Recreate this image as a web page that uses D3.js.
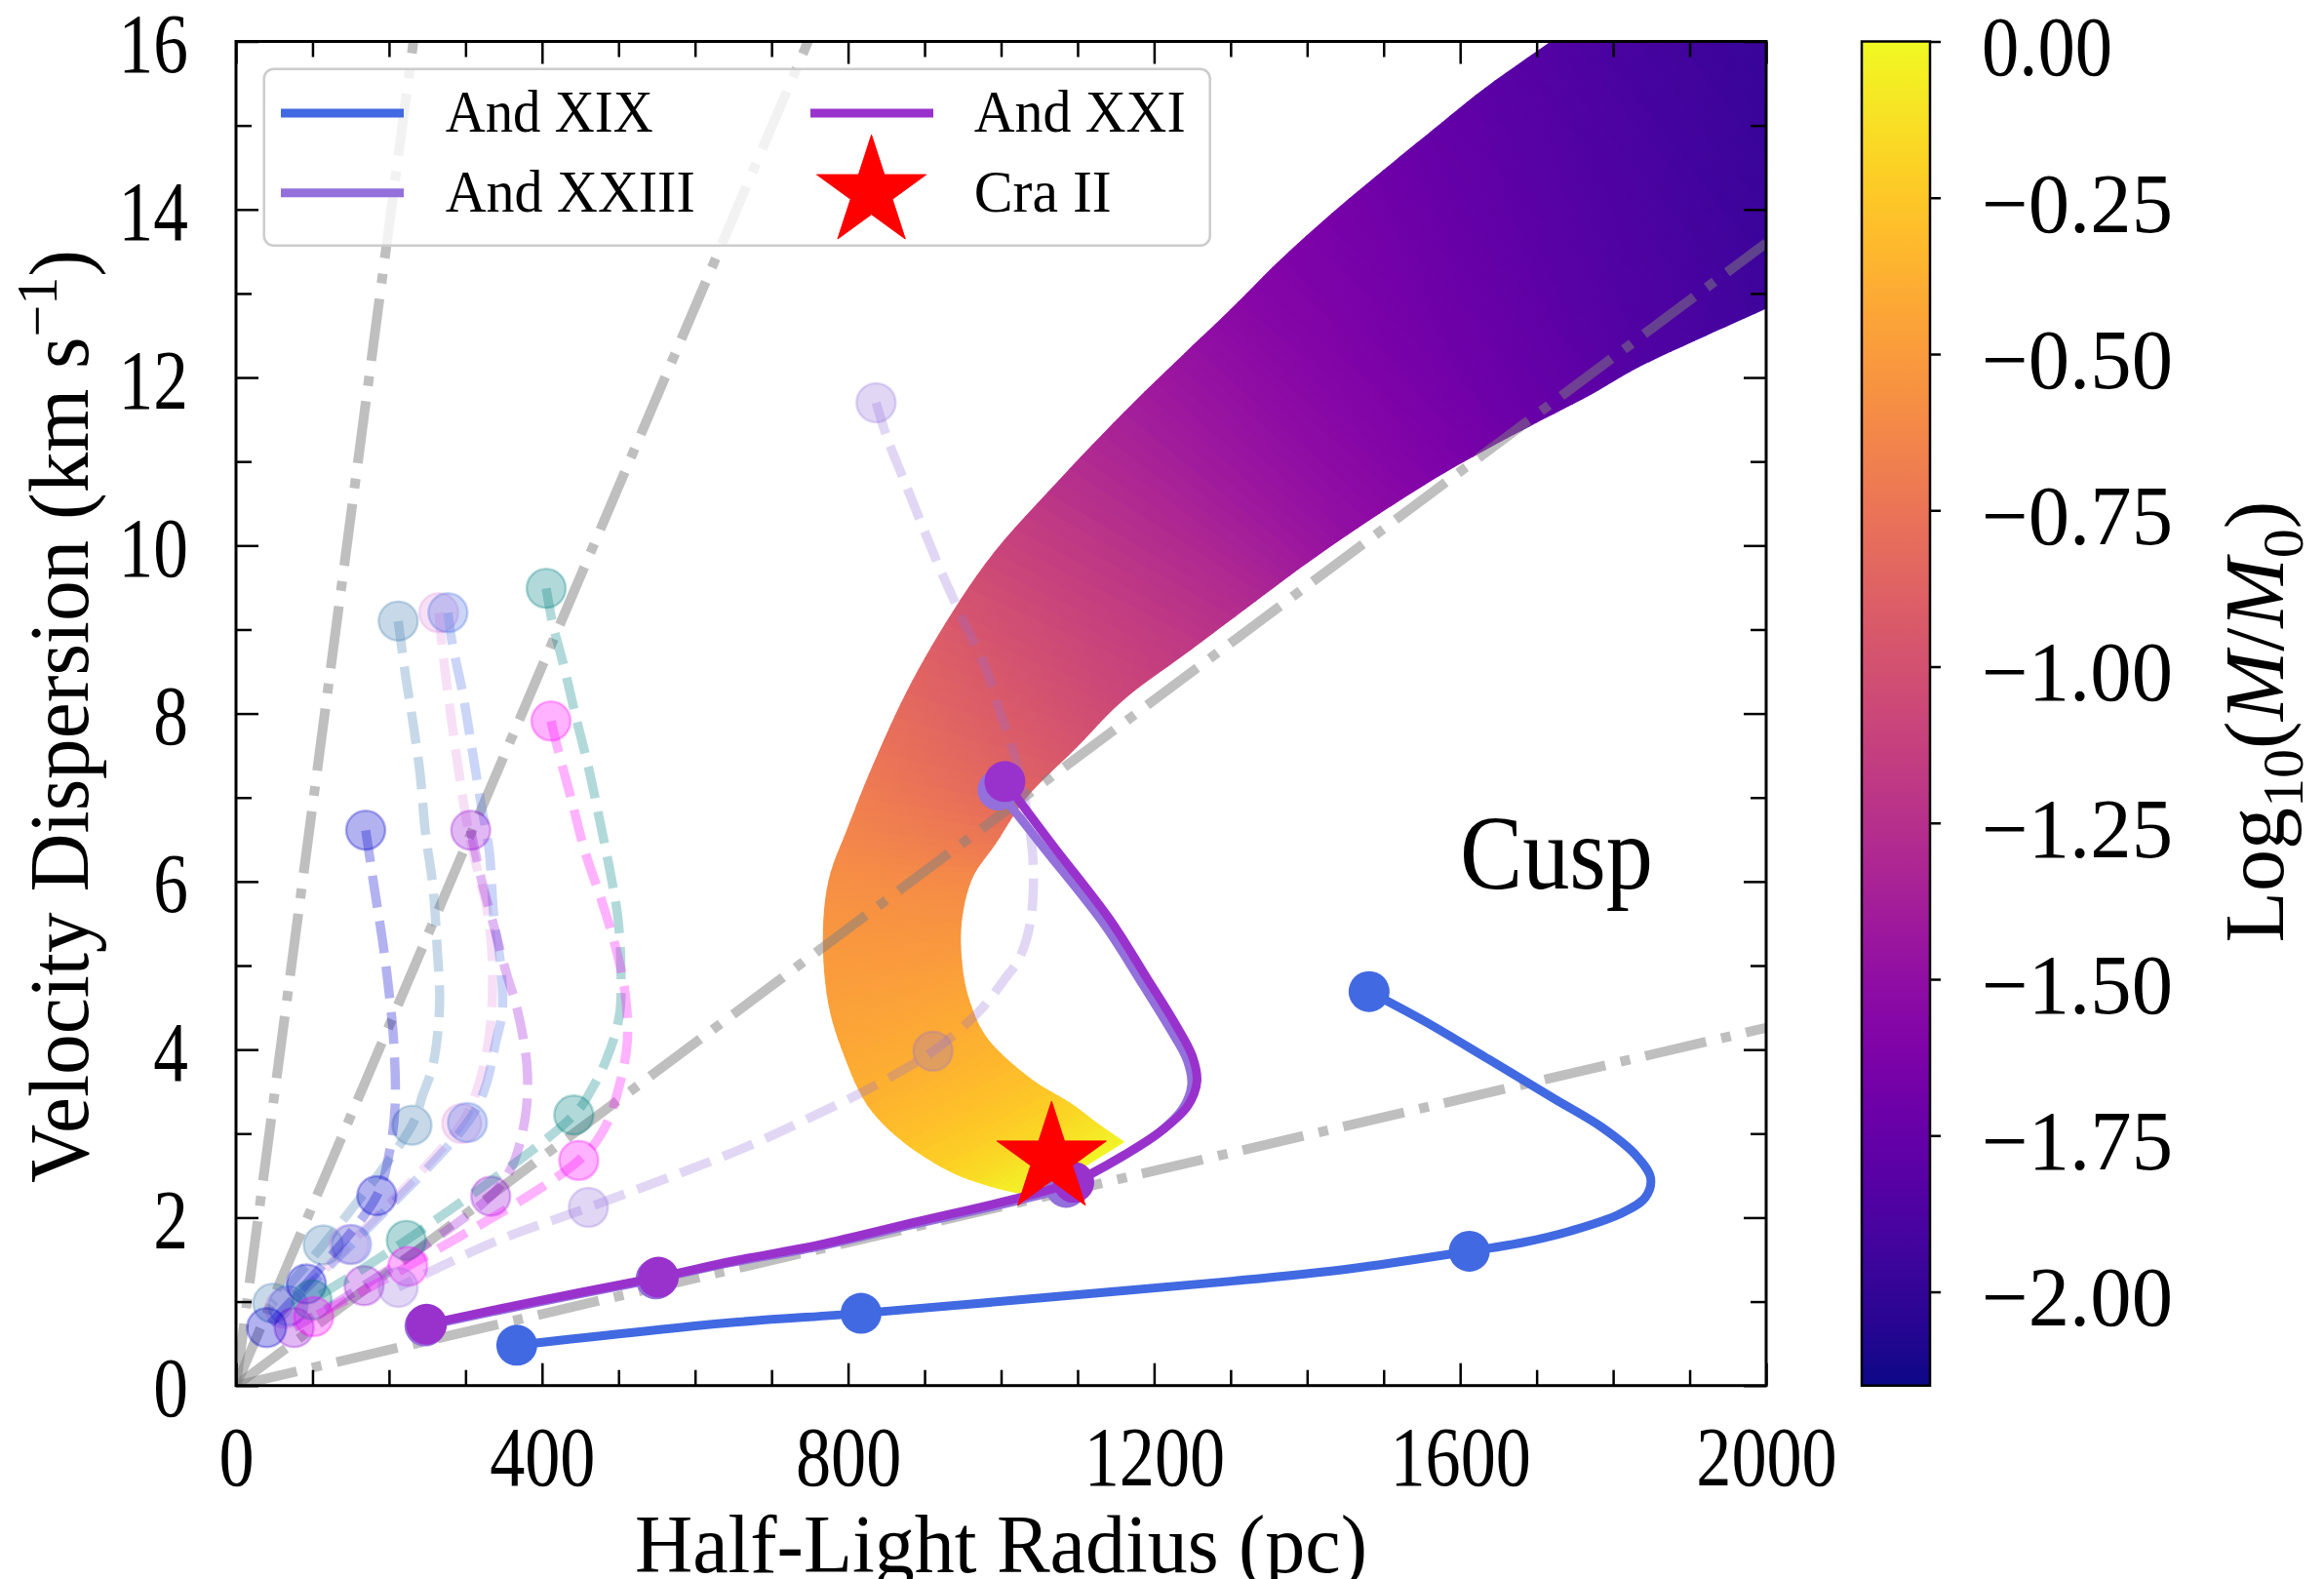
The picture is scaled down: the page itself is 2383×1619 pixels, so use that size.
<!DOCTYPE html>
<html>
<head>
<meta charset="utf-8">
<script src="https://cdn.jsdelivr.net/npm/d3@7"></script>
<style>
  html, body { margin: 0; padding: 0; background: #ffffff; }
  svg { display: block; }
  text { font-family: "Liberation Serif", "DejaVu Serif", serif; fill: #000; }
</style>
</head>
<body>
<svg id="chart" width="2383" height="1619"></svg>
<script>
// ---------------- data ----------------
const xTicksMajor = [0, 400, 800, 1200, 1600, 2000];
const xTicksMinor = d3.range(0, 2001, 100);
const yTicksMajor = [0, 2, 4, 6, 8, 10, 12, 14, 16];
const yTicksMinor = d3.range(0, 17, 1);
const cbTicks = [0, -0.25, -0.5, -0.75, -1.0, -1.25, -1.5, -1.75, -2.0];
const cbDomain = [-2.15, 0];

// slopes (km/s per pc) of the constant-density guide lines through the origin
const densitySlopes = [0.069, 0.0214, 0.0068, 0.00213];

// Cra II model band: outer and inner edges, with log10(M/M0) along each edge
const bandOuter = [[1045,2.25],[985,2.38],[932,2.56],[872,2.91],[826,3.34],[796,3.92],[775,4.55],[768,5.30],[775,6.00],[800,6.63],[834,7.40],[877,8.25],[928,9.07],[992,9.92],[1076,10.77],[1161,11.58],[1240,12.28],[1300,12.80],[1366,13.40],[1433,13.95],[1500,14.46],[1566,14.95],[1633,15.44],[1720,16.00],[1830,16.70],[1960,17.50],[2100,18.40]];
const bandInner = [[1160,2.90],[1125,3.12],[1090,3.36],[1038,3.65],[983,4.11],[958,4.58],[948,5.05],[948,5.55],[962,6.05],[992,6.45],[1034,7.02],[1098,7.60],[1161,8.18],[1247,8.76],[1332,9.34],[1400,9.80],[1480,10.30],[1566,10.80],[1640,11.18],[1700,11.47],[1770,11.80],[1833,12.13],[1920,12.50],[2000,12.83],[2110,13.30],[2250,13.90],[2400,14.50]];
const bandLogOuter = [0.00,-0.10,-0.19,-0.28,-0.36,-0.42,-0.47,-0.52,-0.57,-0.64,-0.73,-0.84,-0.94,-1.08,-1.24,-1.37,-1.47,-1.54,-1.60,-1.65,-1.70,-1.75,-1.80,-1.85,-1.91,-1.97,-2.03];
const bandLogInner = [-0.02,-0.11,-0.20,-0.29,-0.37,-0.43,-0.49,-0.55,-0.61,-0.72,-0.86,-0.98,-1.08,-1.18,-1.30,-1.42,-1.52,-1.60,-1.67,-1.73,-1.79,-1.85,-1.90,-1.95,-2.01,-2.06,-2.10];

// background dwarf tracks (half-light radius pc, dispersion km/s)
const trackBlue = [[169.5,6.61],[180,5.97],[193,5.20],[201,4.60],[206,4.11],[208,3.34],[201,2.80],[184,2.26],[92,1.21],[40,0.69]];
const trackBlueMarks = [[169.5,6.61],[184,2.26],[92,1.21],[40,0.69]];
const trackSteel = [[212,9.10],[221,8.49],[231,7.91],[240,7.33],[248,6.55],[257,5.97],[263,5.20],[266,4.50],[257,3.80],[244,3.46],[230,3.10],[114,1.675],[48,0.98]];
const trackSteelMarks = [[212,9.10],[230,3.10],[114,1.675],[48,0.98]];
const trackOrchid = [[265,9.20],[272,8.60],[282,7.90],[293,7.20],[305,6.55],[318,6.05],[327,5.72],[334,5.22],[335,4.62],[330,4.10],[316,3.55],[295,3.12],[148,1.68],[64,0.92]];
const trackOrchidMarks = [[265,9.20],[295,3.12],[148,1.68],[64,0.92]];
const trackRoyal = [[277,9.20],[282,8.87],[297,8.21],[308,7.60],[320,6.94],[331,6.36],[337,5.58],[346,5.00],[348,4.45],[340,4.11],[325,3.53],[302.5,3.13],[151,1.68],[68,0.95]];
const trackRoyalMarks = [[277,9.20],[302.5,3.13],[151,1.68],[68,0.95]];
const trackViolet = [[306.8,6.61],[320,6.05],[337,5.47],[354,4.89],[367,4.50],[380,3.84],[380,3.34],[371,2.88],[358.6,2.57],[333,2.255],[167.4,1.19],[76,0.69]];
const trackVioletMarks = [[306.8,6.61],[333,2.255],[167.4,1.19],[76,0.69]];
const trackTeal = [[405.4,9.49],[413.9,9.07],[428.7,8.56],[443.6,7.98],[460.6,7.36],[477.6,6.63],[490.4,6.05],[499,5.58],[503,5.00],[501,4.40],[484,3.88],[465,3.53],[441.5,3.22],[222.6,1.73],[99.4,1.02]];
const trackTealMarks = [[405.4,9.49],[441.5,3.22],[222.6,1.73],[99.4,1.02]];
const trackMagenta = [[411.7,7.91],[422.3,7.52],[439.4,6.94],[456,6.36],[477.6,5.78],[495.5,5.24],[508.3,4.69],[511.6,4.11],[501,3.57],[482,3.07],[448,2.68],[224.6,1.42],[101.6,0.82]];
const trackMagentaMarks = [[411.7,7.91],[448,2.68],[224.6,1.42],[101.6,0.82]];
const trackLavender = [[836.6,11.70],[851.5,11.27],[877,10.69],[902.5,10.11],[923.6,9.65],[949,9.14],[979,8.56],[1000,7.98],[1021,7.40],[1034,6.82],[1042,6.20],[1038,5.50],[1022,5.05],[1008,4.88],[976,4.50],[945,4.23],[911,3.98],[839,3.59],[741,3.15],[656,2.80],[460.6,2.12],[337.4,1.71],[212,1.17]];
const trackLavenderMarks = [[836.6,11.70],[911,3.98],[460.6,2.12],[212,1.17]];

// highlighted tracks
const andXIX = [[1481,4.69],[1553,4.34],[1638,3.88],[1722,3.42],[1786,3.07],[1830,2.74],[1849,2.47],[1842,2.24],[1808,2.04],[1744,1.84],[1680,1.70],[1612,1.60],[1455,1.39],[1298,1.24],[1060,1.05],[817,0.86],[648,0.75],[367,0.48]];
const andXIXMarks = [[1481,4.69],[1612,1.60],[817,0.86],[367,0.48]];
const andXXI = [[1005,7.19],[1066,6.45],[1142,5.55],[1190,4.86],[1228,4.30],[1250,3.92],[1256,3.62],[1244,3.33],[1212,3.05],[1160,2.74],[1111,2.49],[1095,2.42],[1017,2.22],[890,1.95],[762,1.675],[648,1.48],[552,1.29],[401,1.02],[249,0.73]];
const andXXIMarks = [[1005,7.19],[1095,2.42],[552,1.29],[249,0.73]];
const andXXIII = [[996,7.09],[1056,6.40],[1134,5.50],[1182,4.82],[1220,4.26],[1243,3.88],[1249,3.58],[1237,3.29],[1205,3.00],[1152,2.69],[1104,2.45],[1085,2.36],[1012,2.18],[886,1.92],[758,1.65],[645,1.46],[549,1.27],[399,1.00],[247,0.71]];
const andXXIIIMarks = [[996,7.09],[1085,2.36],[549,1.27],[247,0.71]];
const craII = [1066, 2.7];

// ---------------- layout ----------------
const svg = d3.select("#chart");
const P = { left: 242, right: 1811, top: 42.5, bottom: 1420.7 };
const CB = { left: 1909, right: 1979 };
const x = d3.scaleLinear().domain([0, 2000]).range([P.left, P.right]);
const y = d3.scaleLinear().domain([0, 16]).range([P.bottom, P.top]);
const cbScale = d3.scaleLinear().domain(cbDomain).range([P.bottom, P.top]);
const cmap = d3.scaleSequential(d3.interpolatePlasma).domain(cbDomain);

const defs = svg.append("defs");
defs.append("clipPath").attr("id", "plotClip")
  .append("rect").attr("x", P.left).attr("y", P.top)
  .attr("width", P.right - P.left).attr("height", P.bottom - P.top);

const plot = svg.append("g").attr("clip-path", "url(#plotClip)");

function squeeze(sel, f) {
  sel.each(function () {
    const w = this.getComputedTextLength();
    d3.select(this).attr("textLength", w * f).attr("lengthAdjust", "spacingAndGlyphs");
  });
}

// ---------------- model band ----------------
// smooth edge position between stations i and i+1 (Catmull-Rom in screen space)
function edgeAt(pts, i, t) {
  const n = pts.length;
  const p = k => pts[Math.max(0, Math.min(n - 1, k))];
  const P0 = p(i - 1), P1 = p(i), P2 = p(i + 1), P3 = p(i + 2);
  const t2 = t * t, t3 = t2 * t;
  const f = (a, b, c, d) => 0.5 * ((2 * b) + (-a + c) * t + (2 * a - 5 * b + 4 * c - d) * t2 + (-a + 3 * b - 3 * c + d) * t3);
  return [f(P0[0], P1[0], P2[0], P3[0]), f(P0[1], P1[1], P2[1], P3[1])];
}
const outerPx = bandOuter.map(d => [x(d[0]), y(d[1])]);
const innerPx = bandInner.map(d => [x(d[0]), y(d[1])]);
const bandG = plot.append("g");
const SUB = 6;
let gid = 0;
for (let i = 0; i < bandOuter.length - 1; i++) {
  for (let k = 0; k < SUB; k++) {
    const t0 = k / SUB, t1 = (k + 1) / SUB, tm = (t0 + t1) / 2;
    const A = edgeAt(outerPx, i, t0), B = edgeAt(outerPx, i, t1);
    const C = edgeAt(innerPx, i, t1), D = edgeAt(innerPx, i, t0);
    const lo = bandLogOuter[i] + (bandLogOuter[i + 1] - bandLogOuter[i]) * tm;
    const li = bandLogInner[i] + (bandLogInner[i + 1] - bandLogInner[i]) * tm;
    const id = "bg" + (gid++);
    const g = defs.append("linearGradient").attr("id", id)
      .attr("gradientUnits", "userSpaceOnUse")
      .attr("x1", (A[0] + B[0]) / 2).attr("y1", (A[1] + B[1]) / 2)
      .attr("x2", (C[0] + D[0]) / 2).attr("y2", (C[1] + D[1]) / 2);
    g.append("stop").attr("offset", 0).attr("stop-color", cmap(lo));
    g.append("stop").attr("offset", 1).attr("stop-color", cmap(li));
    bandG.append("polygon")
      .attr("points", [A, B, C, D].map(p => p.join(",")).join(" "))
      .attr("fill", `url(#${id})`)
      .attr("stroke", `url(#${id})`)
      .attr("stroke-width", 1.5)
      .attr("stroke-linejoin", "round");
  }
}

// ---------------- constant-density guide lines ----------------
plot.append("g").selectAll("line").data(densitySlopes).join("line")
  .attr("x1", x(0)).attr("y1", y(0))
  .attr("x2", x(2000)).attr("y2", d => y(2000 * d))
  .attr("stroke", "#808080").attr("stroke-opacity", 0.5)
  .attr("stroke-width", 10)
  .attr("stroke-dasharray", "64,16,10,16");

// ---------------- background tracks ----------------
const lineGen = d3.line().x(d => x(d[0])).y(d => y(d[1])).curve(d3.curveCatmullRom.alpha(0.5));
const faint = [
  { pts: trackSteel, marks: trackSteelMarks, color: "steelblue", a: 0.3 },
  { pts: trackOrchid, marks: trackOrchidMarks, color: "orchid", a: 0.22 },
  { pts: trackRoyal, marks: trackRoyalMarks, color: "royalblue", a: 0.28 },
  { pts: trackViolet, marks: trackVioletMarks, color: "darkviolet", a: 0.28 },
  { pts: trackBlue, marks: trackBlueMarks, color: "mediumblue", a: 0.3 },
  { pts: trackTeal, marks: trackTealMarks, color: "teal", a: 0.3 },
  { pts: trackMagenta, marks: trackMagentaMarks, color: "magenta", a: 0.3 },
  { pts: trackLavender, marks: trackLavenderMarks, color: "mediumpurple", a: 0.28 }
];
faint.forEach(t => {
  const g = plot.append("g");
  g.append("path").attr("d", lineGen(t.pts))
    .attr("fill", "none").attr("stroke", t.color).attr("stroke-opacity", t.a)
    .attr("stroke-width", 9.5).attr("stroke-dasharray", "33,14");
  g.selectAll("circle").data(t.marks).join("circle")
    .attr("cx", d => x(d[0])).attr("cy", d => y(d[1])).attr("r", 20)
    .attr("fill", t.color).attr("fill-opacity", t.a)
    .attr("stroke", t.color).attr("stroke-opacity", t.a).attr("stroke-width", 2.5);
});

// ---------------- highlighted tracks ----------------
const solid = [
  { pts: andXIX, marks: andXIXMarks, color: "royalblue" },
  { pts: andXXIII, marks: andXXIIIMarks, color: "mediumpurple" },
  { pts: andXXI, marks: andXXIMarks, color: "darkorchid" }
];
solid.forEach(t => {
  const g = plot.append("g");
  g.append("path").attr("d", lineGen(t.pts))
    .attr("fill", "none").attr("stroke", t.color).attr("stroke-width", 9)
    .attr("stroke-linecap", "round").attr("stroke-linejoin", "round");
  g.selectAll("circle").data(t.marks).join("circle")
    .attr("cx", d => x(d[0])).attr("cy", d => y(d[1])).attr("r", 21)
    .attr("fill", t.color);
});

// Cra II
const starSize = 59 * 59 / 0.8908130915292852;
plot.append("path")
  .attr("d", d3.symbol(d3.symbolStar, starSize)())
  .attr("transform", `translate(${x(craII[0])},${y(craII[1])})`)
  .attr("fill", "red").attr("stroke", "red").attr("stroke-width", 1);

// region label
svg.append("text").attr("x", 1497).attr("y", 911)
  .attr("font-size", 109).attr("textLength", 198).attr("lengthAdjust", "spacingAndGlyphs")
  .text("Cusp");

// ---------------- axes ----------------
function styleAxis(g) {
  g.select(".domain").remove();
  g.selectAll(".tick line").attr("stroke", "#000").attr("stroke-width", 2.5);
}
const fmt = d3.format("d");

// bottom
const gxMinor = svg.append("g").attr("transform", `translate(0,${P.bottom})`)
  .call(d3.axisBottom(x).tickValues(xTicksMinor.filter(v => v % 400)).tickSize(-16).tickFormat(""));
styleAxis(gxMinor);
const gx = svg.append("g").attr("transform", `translate(0,${P.bottom})`)
  .call(d3.axisBottom(x).tickValues(xTicksMajor).tickSizeInner(-23).tickSizeOuter(0).tickPadding(41).tickFormat(fmt));
styleAxis(gx);
gx.selectAll("text").attr("font-size", 86).attr("fill", "#000")
  .attr("font-family", '"Liberation Serif","DejaVu Serif",serif');
squeeze(gx.selectAll("text"), 0.84);

// top
const gtMinor = svg.append("g").attr("transform", `translate(0,${P.top})`)
  .call(d3.axisTop(x).tickValues(xTicksMinor.filter(v => v % 400)).tickSize(-16).tickFormat(""));
styleAxis(gtMinor);
const gt = svg.append("g").attr("transform", `translate(0,${P.top})`)
  .call(d3.axisTop(x).tickValues(xTicksMajor).tickSize(-23).tickFormat(""));
styleAxis(gt);

// left
const gyMinor = svg.append("g").attr("transform", `translate(${P.left},0)`)
  .call(d3.axisLeft(y).tickValues(yTicksMinor.filter(v => v % 2)).tickSize(-16).tickFormat(""));
styleAxis(gyMinor);
const gy = svg.append("g").attr("transform", `translate(${P.left},0)`)
  .call(d3.axisLeft(y).tickValues(yTicksMajor).tickSizeInner(-23).tickSizeOuter(0).tickPadding(49).tickFormat(fmt));
styleAxis(gy);
gy.selectAll("text").attr("font-size", 86).attr("fill", "#000").attr("dy", "0.36em")
  .attr("font-family", '"Liberation Serif","DejaVu Serif",serif');
squeeze(gy.selectAll("text"), 0.83);

// right
const grMinor = svg.append("g").attr("transform", `translate(${P.right},0)`)
  .call(d3.axisRight(y).tickValues(yTicksMinor.filter(v => v % 2)).tickSize(-16).tickFormat(""));
styleAxis(grMinor);
const gr = svg.append("g").attr("transform", `translate(${P.right},0)`)
  .call(d3.axisRight(y).tickValues(yTicksMajor).tickSize(-23).tickFormat(""));
styleAxis(gr);

// frame
svg.append("rect").attr("x", P.left).attr("y", P.top)
  .attr("width", P.right - P.left).attr("height", P.bottom - P.top)
  .attr("fill", "none").attr("stroke", "#000").attr("stroke-width", 3);

// axis titles
svg.append("text").attr("x", (P.left + P.right) / 2).attr("y", 1612)
  .attr("text-anchor", "middle").attr("font-size", 84)
  .attr("textLength", 751).attr("lengthAdjust", "spacingAndGlyphs")
  .text("Half-Light Radius (pc)");

const ylab = svg.append("text").attr("text-anchor", "middle").attr("font-size", 86);
ylab.append("tspan").text("Velocity Dispersion (km s");
ylab.append("tspan").attr("font-size", 60).attr("dy", -32).text("\u22121");
ylab.append("tspan").attr("dy", 32).text(")");
{
  const w = ylab.node().getBBox().width;
  ylab.attr("transform", `translate(90,734.5) rotate(-90) scale(${957 / w},1)`);
}

// ---------------- colorbar ----------------
const cbGrad = defs.append("linearGradient").attr("id", "cbGrad")
  .attr("x1", 0).attr("y1", 1).attr("x2", 0).attr("y2", 0);
d3.range(0, 1.0001, 0.05).forEach(t => {
  cbGrad.append("stop").attr("offset", t).attr("stop-color", d3.interpolatePlasma(t));
});
svg.append("rect").attr("x", CB.left).attr("y", P.top)
  .attr("width", CB.right - CB.left).attr("height", P.bottom - P.top)
  .attr("fill", "url(#cbGrad)").attr("stroke", "#000").attr("stroke-width", 2.5);

const gcb = svg.append("g").attr("transform", `translate(${CB.right},0)`)
  .call(d3.axisRight(cbScale).tickValues(cbTicks).tickSize(11).tickPadding(42)
    .tickFormat(d => (d === 0 ? "0.00" : "\u2212" + Math.abs(d).toFixed(2))));
styleAxis(gcb);
gcb.selectAll("text").attr("font-size", 86).attr("fill", "#000").attr("dy", "0.40em")
  .attr("font-family", '"Liberation Serif","DejaVu Serif",serif')
  .attr("textLength", d => (d === 0 ? 134 : 196)).attr("lengthAdjust", "spacingAndGlyphs");

const cbl = svg.append("text").attr("text-anchor", "middle").attr("font-size", 86)
  .attr("transform", "translate(2341,740) rotate(-90)");
cbl.append("tspan").text("Log");
cbl.append("tspan").attr("font-size", 60).attr("dy", 20).text("10");
cbl.append("tspan").attr("dy", -20).text("(");
cbl.append("tspan").attr("font-style", "italic").text("M");
cbl.append("tspan").text("/");
cbl.append("tspan").attr("font-style", "italic").text("M");
cbl.append("tspan").attr("font-size", 60).attr("dy", 20).text("0");
cbl.append("tspan").attr("dy", -20).text(")");

// ---------------- legend ----------------
const leg = svg.append("g");
leg.append("rect").attr("x", 270.7).attr("y", 70.7).attr("width", 970).attr("height", 181)
  .attr("rx", 10).attr("ry", 10)
  .attr("fill", "#fff").attr("fill-opacity", 0.8)
  .attr("stroke", "#cccccc").attr("stroke-width", 2.5);
const legendItems = [
  { label: "And XIX", color: "royalblue", x0: 288, y: 116, tx: 456.7, ty: 135, tw: 213 },
  { label: "And XXIII", color: "mediumpurple", x0: 288, y: 197.7, tx: 456.7, ty: 216.7, tw: 256 },
  { label: "And XXI", color: "darkorchid", x0: 831, y: 116, tx: 998.7, ty: 135, tw: 217 }
];
legendItems.forEach(it => {
  leg.append("line").attr("x1", it.x0).attr("x2", it.x0 + 126).attr("y1", it.y).attr("y2", it.y)
    .attr("stroke", it.color).attr("stroke-width", 9);
  leg.append("text").attr("x", it.tx).attr("y", it.ty).attr("font-size", 62)
    .attr("textLength", it.tw).attr("lengthAdjust", "spacingAndGlyphs").text(it.label);
});
leg.append("path").attr("d", d3.symbol(d3.symbolStar, starSize)())
  .attr("transform", "translate(893.6,197.3)")
  .attr("fill", "red").attr("stroke", "red").attr("stroke-width", 1);
leg.append("text").attr("x", 998.7).attr("y", 216.7).attr("font-size", 62)
  .attr("textLength", 141).attr("lengthAdjust", "spacingAndGlyphs").text("Cra II");
</script>
</body>
</html>
